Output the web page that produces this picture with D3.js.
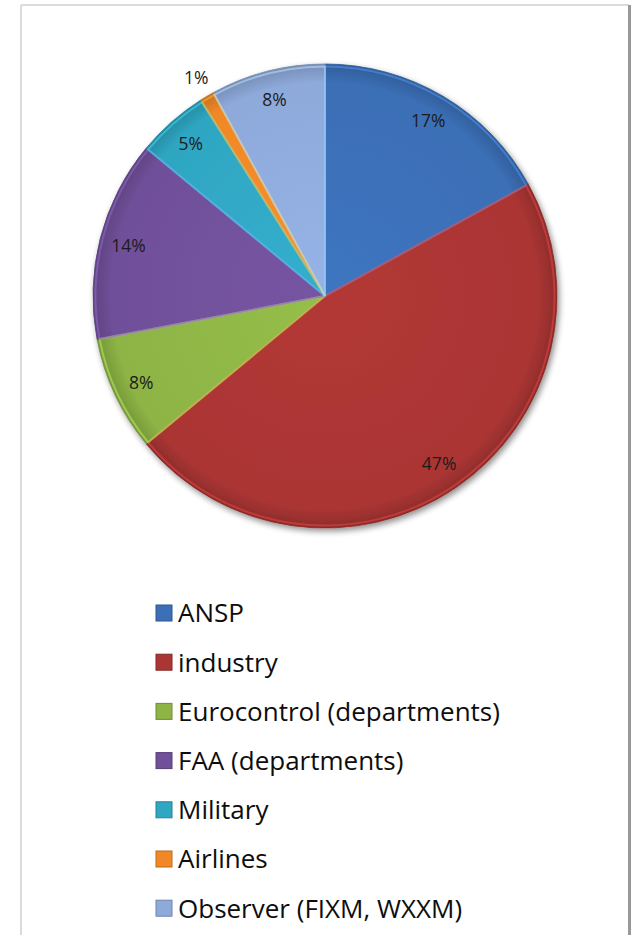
<!DOCTYPE html>
<html>
<head>
<meta charset="utf-8">
<script src="https://cdnjs.cloudflare.com/ajax/libs/d3/7.8.5/d3.min.js"></script>
<style>
  body { margin: 0; background: #fff; }
  .pctLabel { font-family: "Open Sans", sans-serif; font-size: 17.5px; fill: #1c1c1c; }
  .legendText { font-family: "Open Sans", sans-serif; font-size: 26px; fill: #0d0d0d; }
</style>
</head>
<body>
<div id="chart"></div>
<script>
// Chart data
var categories = ["ANSP", "industry", "Eurocontrol (departments)", "FAA (departments)", "Military", "Airlines", "Observer (FIXM, WXXM)"];
var shares = [17, 47, 8, 14, 5, 1, 8];
var sliceColors = ["#3b6fb6", "#aa3533", "#8db445", "#70509a", "#2fa6c2", "#f08828", "#8eaadb"];

var svgWidth = 633;
var svgHeight = 935;

var svg = d3.select("#chart")
  .append("svg")
  .attr("width", svgWidth)
  .attr("height", svgHeight);

// Frame round the chart area (left/top light, right darker)
svg.append("line").attr("x1", 21).attr("y1", 5).attr("x2", 21).attr("y2", svgHeight)
  .attr("stroke", "#cfcfcf").attr("stroke-width", 1.5);
svg.append("line").attr("x1", 21).attr("y1", 5).attr("x2", 629).attr("y2", 5)
  .attr("stroke", "#cfcfcf").attr("stroke-width", 1.5);
svg.append("line").attr("x1", 629.5).attr("y1", 5).attr("x2", 629.5).attr("y2", svgHeight)
  .attr("stroke", "#999").attr("stroke-width", 3);

var defs = svg.append("defs");

// Drop shadow for the pie
var shadow = defs.append("filter").attr("id", "shadow")
  .attr("x", "-10%").attr("y", "-10%").attr("width", "130%").attr("height", "130%");
shadow.append("feGaussianBlur").attr("in", "SourceAlpha").attr("stdDeviation", 3);
shadow.append("feOffset").attr("dx", 2).attr("dy", 3).attr("result", "off");
shadow.append("feComponentTransfer").append("feFuncA").attr("type", "linear").attr("slope", 0.45);
var merge = shadow.append("feMerge");
merge.append("feMergeNode");
merge.append("feMergeNode").attr("in", "SourceGraphic");

// A soft gradient per slice colour
sliceColors.forEach(function(c, i) {
  var g = defs.append("radialGradient").attr("id", "grad" + i)
    .attr("gradientUnits", "userSpaceOnUse")
    .attr("cx", 0).attr("cy", 0).attr("r", 232);
  g.append("stop").attr("offset", "0%").attr("stop-color", d3.color(c).brighter(0.15));
  g.append("stop").attr("offset", "92%").attr("stop-color", c);
  g.append("stop").attr("offset", "100%").attr("stop-color", d3.color(c).darker(0.5));
});

var cx = 325, cy = 296, radius = 232;

var pieGroup = svg.append("g")
  .attr("transform", `translate(${cx}, ${cy})`);

var pie = d3.pie().sort(null).value(d => d);
var arcs = pie(shares);

var arc = d3.arc().innerRadius(0).outerRadius(radius);
var labelArc = d3.arc().innerRadius(radius * 0.875).outerRadius(radius * 0.875);
var outerLabelArc = d3.arc().innerRadius(radius * 1.09).outerRadius(radius * 1.09);

var slices = pieGroup.append("g").attr("filter", "url(#shadow)");

slices.selectAll("path")
  .data(arcs)
  .enter()
  .append("path")
  .attr("d", arc)
  .attr("fill", (d, i) => `url(#grad${i})`)
  .attr("stroke", (d, i) => d3.color(sliceColors[i]).darker(0.6))
  .attr("stroke-width", 0.8);

// inner highlight (bevel) along slice edges
var bevelArc = d3.arc().innerRadius(0).outerRadius(radius - 2.5);
pieGroup.append("g").selectAll("path")
  .data(arcs)
  .enter()
  .append("path")
  .attr("d", bevelArc)
  .attr("fill", "none")
  .attr("stroke", (d, i) => d3.color(sliceColors[i]).brighter(0.9))
  .attr("stroke-opacity", 0.5)
  .attr("stroke-width", 2);

// Percentage labels
pieGroup.selectAll("text.pctLabel")
  .data(arcs)
  .enter()
  .append("text")
  .attr("class", "pctLabel")
  .attr("text-anchor", "middle")
  .attr("dy", "0.35em")
  .attr("transform", d => {
    var p = (d.data < 2 ? outerLabelArc : labelArc).centroid(d);
    return `translate(${p[0]}, ${p[1]})`;
  })
  .text(d => d.data + "%");

// Legend
var legend = svg.append("g").attr("transform", "translate(156, 613)");
var rowStep = 49.2;

var rows = legend.selectAll("g")
  .data(categories)
  .enter()
  .append("g")
  .attr("transform", (d, i) => `translate(0, ${i * rowStep})`);

rows.append("rect")
  .attr("x", 0)
  .attr("y", -8)
  .attr("width", 16)
  .attr("height", 16)
  .attr("fill", (d, i) => sliceColors[i])
  .attr("stroke", (d, i) => d3.color(sliceColors[i]).darker(0.7))
  .attr("stroke-width", 1);

rows.append("text")
  .attr("class", "legendText")
  .attr("x", 22)
  .attr("dy", "0.36em")
  .text(d => d);
</script>
</body>
</html>
